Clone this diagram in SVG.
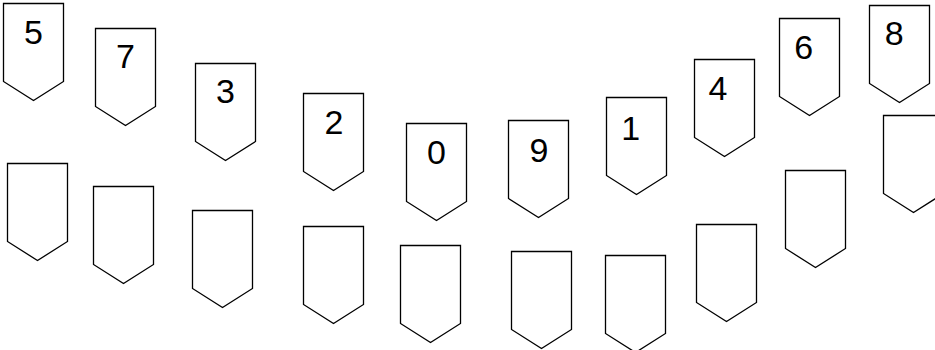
<svg xmlns="http://www.w3.org/2000/svg" xmlns:xlink="http://www.w3.org/1999/xlink" width="935" height="350" viewBox="0 0 935 350">
<style>
.s{fill:#fff;stroke:#000;stroke-width:1.3;stroke-linejoin:miter}
.t{font-family:"Liberation Sans",Arial,sans-serif;font-size:34px;fill:#000;text-anchor:middle}
</style>
<defs>
<path id="pen" d="M0,0 H60 V78 L30,97 L0,78 Z"/>
</defs>
<rect width="935" height="350" fill="#fff"/>
<g id="n5" transform="translate(3.5,3.5)"><use xlink:href="#pen" class="s"/><text class="t" x="30" y="40.5">5</text></g>
<g id="n7" transform="translate(95.5,28.5)"><use xlink:href="#pen" class="s"/><text class="t" x="30" y="39.5">7</text></g>
<g id="n3" transform="translate(195.5,63.5)"><use xlink:href="#pen" class="s"/><text class="t" x="30" y="39.5">3</text></g>
<g id="n2" transform="translate(303.5,93.5)"><use xlink:href="#pen" class="s"/><text class="t" x="30.5" y="40.5">2</text></g>
<g id="n0" transform="translate(406.5,123.5)"><use xlink:href="#pen" class="s"/><text class="t" x="30" y="40.5">0</text></g>
<g id="n9" transform="translate(508.5,120.5)"><use xlink:href="#pen" class="s"/><text class="t" x="30.5" y="41">9</text></g>
<g id="n1" transform="translate(606.5,97.5)"><use xlink:href="#pen" class="s"/><text class="t" x="24.3" y="42">1</text></g>
<g id="n4" transform="translate(694.5,59.5)"><use xlink:href="#pen" class="s"/><text class="t" x="23.5" y="40">4</text></g>
<g id="n6" transform="translate(779.5,18.5)"><use xlink:href="#pen" class="s"/><text class="t" x="24.2" y="40.5">6</text></g>
<g id="n8" transform="translate(869.5,5.5)"><use xlink:href="#pen" class="s"/><text class="t" x="24.8" y="39.5">8</text></g>
<g id="e1" transform="translate(7.5,163.5)"><use xlink:href="#pen" class="s"/></g>
<g id="e2" transform="translate(93.5,186.5)"><use xlink:href="#pen" class="s"/></g>
<g id="e3" transform="translate(192.5,210.5)"><use xlink:href="#pen" class="s"/></g>
<g id="e4" transform="translate(303.5,226.5)"><use xlink:href="#pen" class="s"/></g>
<g id="e5" transform="translate(400.5,245.5)"><use xlink:href="#pen" class="s"/></g>
<g id="e6" transform="translate(511.5,251.5)"><use xlink:href="#pen" class="s"/></g>
<g id="e7" transform="translate(605.5,255.5)"><use xlink:href="#pen" class="s"/></g>
<g id="e8" transform="translate(696.5,224.5)"><use xlink:href="#pen" class="s"/></g>
<g id="e9" transform="translate(785.5,170.5)"><use xlink:href="#pen" class="s"/></g>
<g id="e10" transform="translate(883.5,115.5)"><use xlink:href="#pen" class="s"/></g>
<g id="connectors"/>
</svg>
